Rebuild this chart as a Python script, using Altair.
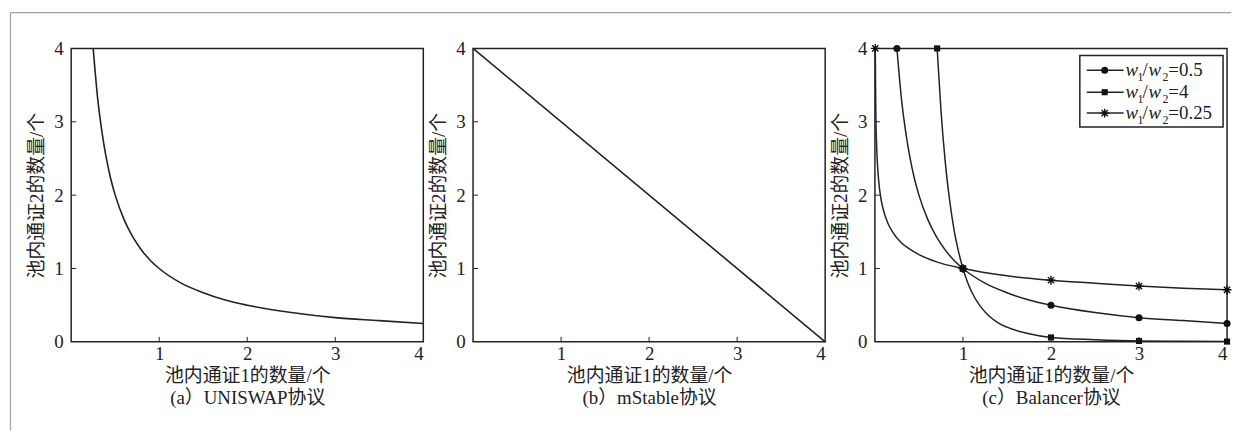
import altair as alt
import pandas as pd

FONT = "'Liberation Serif', 'Noto Sans CJK SC', serif"

# ---------- data ----------
# (a) UNISWAP
a_x = [0.25, 0.3, 0.35, 0.4, 0.45, 0.5, 0.6, 0.7, 0.8, 0.9, 1.0, 1.25, 1.5, 1.75, 2.0, 2.5, 3.0, 3.5, 4.0]
a_y = [4.0, 3.33, 2.86, 2.5, 2.22, 2.0, 1.67, 1.43, 1.25, 1.11, 1.0, 0.8, 0.67, 0.57, 0.5, 0.4, 0.33, 0.29, 0.25]
# (b) mStable
b_x = [0.0, 4.0]
b_y = [4.0, 0.0]
# (c) Balancer
c_half_x = [0.25, 0.3, 0.35, 0.4, 0.45, 0.5, 0.6, 0.7, 0.8, 0.9, 1.0, 1.25, 1.5, 1.75, 2.0, 2.5, 3.0, 3.5, 4.0]
c_half_y = [4.0, 3.33, 2.86, 2.5, 2.22, 2.0, 1.67, 1.43, 1.25, 1.11, 1.0, 0.8, 0.67, 0.57, 0.5, 0.4, 0.33, 0.29, 0.25]
c_four_x = [0.707, 0.75, 0.8, 0.85, 0.9, 0.95, 1.0, 1.05, 1.1, 1.2, 1.3, 1.4, 1.5, 1.75, 2.0, 2.5, 3.0, 3.5, 4.0]
c_four_y = [4.0, 3.16, 2.44, 1.92, 1.52, 1.23, 1.0, 0.82, 0.68, 0.48, 0.35, 0.26, 0.2, 0.11, 0.06, 0.03, 0.012, 0.007, 0.004]
c_quarter_x = [0.004, 0.01, 0.02, 0.03, 0.05, 0.075, 0.1, 0.15, 0.2, 0.3, 0.4, 0.5, 0.7, 1.0, 1.5, 2.0, 2.5, 3.0, 3.5, 4.0]
c_quarter_y = [4.0, 3.16, 2.66, 2.4, 2.11, 1.91, 1.78, 1.61, 1.5, 1.35, 1.26, 1.19, 1.09, 1.0, 0.9, 0.84, 0.8, 0.76, 0.73, 0.71]
# marker positions
m_half_x = [0.25, 1.0, 2.0, 3.0, 4.0]
m_half_y = [4.0, 1.0, 0.5, 0.33, 0.25]
m_four_x = [0.707, 1.0, 2.0, 3.0, 4.0]
m_four_y = [4.0, 1.0, 0.06, 0.012, 0.004]
m_quarter_x = [0.004, 1.0, 2.0, 3.0, 4.0]
m_quarter_y = [4.0, 1.0, 0.84, 0.76, 0.71]

legend_values = ["=0.5", "=4", "=0.25"]
x_tick_values = [1, 2, 3, 4]
y_tick_values = [0, 1, 2, 3, 4]
inner_ticks = [1, 2, 3]

x_title = "池内通证1的数量/个"
y_title = "池内通证2的数量/个"
captions = ["(a）UNISWAP协议", "(b）mStable协议", "(c）Balancer协议"]

W, H = 354, 295
FS = 19
STAR = "M-1,0L1,0M0,-1L0,1M-0.7,-0.7L0.7,0.7M-0.7,0.7L0.7,-0.7"


def x_enc(field, caption):
    return alt.X(field, type="quantitative", scale=alt.Scale(domain=[0, 4], nice=False),
                 axis=alt.Axis(values=x_tick_values, format="d", tickSize=0, domain=False, grid=False,
                               labelPadding=3, labelFontSize=FS, labelFont=FONT,
                               labelColor="#222", title=[x_title, caption],
                               titleFont=FONT, titleFontSize=FS, titleFontWeight="normal",
                               titleColor="#222", titlePadding=3, titleLineHeight=22))


def y_enc(field):
    return alt.Y(field, type="quantitative", scale=alt.Scale(domain=[0, 4], nice=False),
                 axis=alt.Axis(values=y_tick_values, format="d", tickSize=0, domain=False, grid=False,
                               labelPadding=8, labelFontSize=FS, labelFont=FONT,
                               labelColor="#222", title=y_title, titleFont=FONT,
                               titleFontSize=FS, titleFontWeight="normal", titleColor="#222",
                               titlePadding=7))


def tick_layers():
    tdf = pd.DataFrame({"t": inner_ticks})
    xt = alt.Chart(tdf).mark_rule(color="#222", strokeWidth=1).encode(
        x=alt.X("t:Q"), y=alt.value(H), y2=alt.value(H - 5))
    yt = alt.Chart(tdf).mark_rule(color="#222", strokeWidth=1).encode(
        y=alt.Y("t:Q"), x=alt.value(0), x2=alt.value(5))
    return [xt, yt]


one = pd.DataFrame({"k": [0]})

# outer light-grey figure frame (top and left edges), drawn from panel a
frame_top = alt.Chart(one).mark_rule(color="#a0a0a0", strokeWidth=1.2, clip=False).encode(
    x=alt.value(-61), x2=alt.value(1166), y=alt.value(-36))
frame_left = alt.Chart(one).mark_rule(color="#a0a0a0", strokeWidth=1.2, clip=False).encode(
    x=alt.value(-61), y=alt.value(-36), y2=alt.value(384))

# panel a
dfa = pd.DataFrame({"x": a_x, "y": a_y})
pa_line = alt.Chart(dfa).mark_line(color="#222", strokeWidth=1.6, interpolate="monotone").encode(
    x=x_enc("x", captions[0]), y=y_enc("y"))
panel_a = alt.layer(pa_line, *tick_layers(), frame_top, frame_left).properties(width=W, height=H)

# panel b
dfb = pd.DataFrame({"x": b_x, "y": b_y})
pb_line = alt.Chart(dfb).mark_line(color="#222", strokeWidth=1.6).encode(
    x=x_enc("x", captions[1]), y=y_enc("y"))
panel_b = alt.layer(pb_line, *tick_layers()).properties(width=W, height=H)

# panel c
series = [
    (c_half_x, c_half_y, m_half_x, m_half_y, "circle", True, 50),
    (c_four_x, c_four_y, m_four_x, m_four_y, "square", True, 38),
    (c_quarter_x, c_quarter_y, m_quarter_x, m_quarter_y, STAR, False, 80),
]
c_layers = []
for i, (cx, cy, mx, my, shape, filled, size) in enumerate(series):
    dfl = pd.DataFrame({"x": cx, "y": cy})
    enc_x = x_enc("x", captions[2]) if i == 0 else alt.X("x:Q")
    enc_y = y_enc("y") if i == 0 else alt.Y("y:Q")
    c_layers.append(alt.Chart(dfl).mark_line(color="#222", strokeWidth=1.5, interpolate="monotone",
                                             clip=True).encode(x=enc_x, y=enc_y))
for (cx, cy, mx, my, shape, filled, size) in series:
    dfm = pd.DataFrame({"x": mx, "y": my})
    c_layers.append(alt.Chart(dfm).mark_point(shape=shape, filled=filled, size=size, color="#111",
                                              strokeWidth=1.4, opacity=1, clip=False).encode(
        x="x:Q", y="y:Q"))

# legend (drawn by hand, inside panel c)
LX0, LX1, LY0, LY1 = 206, 350, 7, 79
c_layers.append(alt.Chart(one).mark_rect(
    fill="white", stroke="#222", strokeWidth=1.5).encode(
    x=alt.value(LX0), x2=alt.value(LX1), y=alt.value(LY0), y2=alt.value(LY1)))
row_y = [22, 44, 65]
for r, (ry, (cx, cy, mx, my, shape, filled, size), val) in enumerate(zip(row_y, series, legend_values)):
    c_layers.append(alt.Chart(one).mark_rule(color="#222", strokeWidth=1.5).encode(
        x=alt.value(213), x2=alt.value(250), y=alt.value(ry)))
    c_layers.append(alt.Chart(one).mark_point(shape=shape, filled=filled, size=size, color="#111",
                                              strokeWidth=1.4, opacity=1).encode(
        x=alt.value(231), y=alt.value(ry)))
    pieces = [("w", 252, 0, FS, "italic"), ("1", 264, 7, 12, "normal"), ("/", 269, 0, FS, "normal"),
              ("w", 275, 0, FS, "italic"), ("2", 289, 7, 12, "normal"), (val, 295, 0, FS, "normal")]
    for txt, px, dy, fs, style in pieces:
        c_layers.append(alt.Chart(one).mark_text(text=txt, align="left", baseline="middle",
                                                 font=FONT, fontSize=fs, fontStyle=style,
                                                 color="#222").encode(
            x=alt.value(px), y=alt.value(ry + dy)))

c_layers.extend(tick_layers())
panel_c = alt.layer(*c_layers).properties(width=W, height=H)

chart = alt.hconcat(panel_a, panel_b, panel_c, spacing=50, bounds="flush").properties(
    padding={"left": 0.5, "top": 1.5, "right": 0, "bottom": 2}, background="white"
).configure_view(stroke="#222", strokeWidth=1.5)

chart.save("out.html", embed_options={"renderer": "svg", "actions": False})
